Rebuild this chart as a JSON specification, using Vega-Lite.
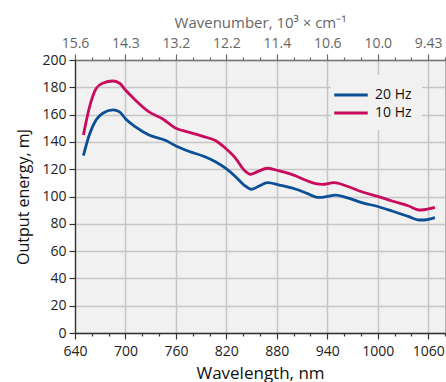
{
  "$schema": "https://vega.github.io/schema/vega-lite/v6.json",
  "autosize": {"type": "none"},
  "width": 370,
  "height": 273,
  "padding": {"left": 75, "top": 60, "right": 1, "bottom": 49},
  "background": "white",
  "config": {
    "font": "Open Sans",
    "view": {"fill": "#f1f1f1", "stroke": "#b0b0b0", "strokeWidth": 1}
  },
  "data": {
    "values": [
      {"series": "10 Hz", "wl": 650, "e": 145},
      {"series": "10 Hz", "wl": 657, "e": 165},
      {"series": "10 Hz", "wl": 665, "e": 179},
      {"series": "10 Hz", "wl": 673, "e": 183},
      {"series": "10 Hz", "wl": 685, "e": 184.6},
      {"series": "10 Hz", "wl": 693, "e": 183},
      {"series": "10 Hz", "wl": 700, "e": 178},
      {"series": "10 Hz", "wl": 712, "e": 170.5},
      {"series": "10 Hz", "wl": 728, "e": 162},
      {"series": "10 Hz", "wl": 744, "e": 157},
      {"series": "10 Hz", "wl": 760, "e": 150},
      {"series": "10 Hz", "wl": 776, "e": 147},
      {"series": "10 Hz", "wl": 792, "e": 144},
      {"series": "10 Hz", "wl": 807, "e": 141},
      {"series": "10 Hz", "wl": 819, "e": 135.3},
      {"series": "10 Hz", "wl": 831, "e": 128},
      {"series": "10 Hz", "wl": 841, "e": 119.5},
      {"series": "10 Hz", "wl": 849, "e": 116.3},
      {"series": "10 Hz", "wl": 857, "e": 118.2},
      {"series": "10 Hz", "wl": 869, "e": 120.7},
      {"series": "10 Hz", "wl": 883, "e": 118.7},
      {"series": "10 Hz", "wl": 902, "e": 115.2},
      {"series": "10 Hz", "wl": 916, "e": 111.5},
      {"series": "10 Hz", "wl": 928, "e": 109.2},
      {"series": "10 Hz", "wl": 934, "e": 108.9},
      {"series": "10 Hz", "wl": 948, "e": 110.1},
      {"series": "10 Hz", "wl": 962, "e": 107.9},
      {"series": "10 Hz", "wl": 981, "e": 103.5},
      {"series": "10 Hz", "wl": 1001, "e": 99.9},
      {"series": "10 Hz", "wl": 1017, "e": 96.7},
      {"series": "10 Hz", "wl": 1037, "e": 93},
      {"series": "10 Hz", "wl": 1049, "e": 90.1},
      {"series": "10 Hz", "wl": 1055, "e": 90.3},
      {"series": "10 Hz", "wl": 1068, "e": 92},
      {"series": "20 Hz", "wl": 650, "e": 130},
      {"series": "20 Hz", "wl": 657, "e": 145},
      {"series": "20 Hz", "wl": 665, "e": 156},
      {"series": "20 Hz", "wl": 673, "e": 161},
      {"series": "20 Hz", "wl": 685, "e": 163.4},
      {"series": "20 Hz", "wl": 693, "e": 162},
      {"series": "20 Hz", "wl": 700, "e": 157},
      {"series": "20 Hz", "wl": 712, "e": 151},
      {"series": "20 Hz", "wl": 728, "e": 145},
      {"series": "20 Hz", "wl": 748, "e": 141},
      {"series": "20 Hz", "wl": 760, "e": 137},
      {"series": "20 Hz", "wl": 776, "e": 133},
      {"series": "20 Hz", "wl": 792, "e": 129.7},
      {"series": "20 Hz", "wl": 807, "e": 125.5},
      {"series": "20 Hz", "wl": 819, "e": 120.7},
      {"series": "20 Hz", "wl": 831, "e": 114.5},
      {"series": "20 Hz", "wl": 841, "e": 108.4},
      {"series": "20 Hz", "wl": 850, "e": 105.3},
      {"series": "20 Hz", "wl": 859, "e": 107.7},
      {"series": "20 Hz", "wl": 869, "e": 110.1},
      {"series": "20 Hz", "wl": 883, "e": 108.4},
      {"series": "20 Hz", "wl": 902, "e": 105.5},
      {"series": "20 Hz", "wl": 916, "e": 102.3},
      {"series": "20 Hz", "wl": 928, "e": 99.4},
      {"series": "20 Hz", "wl": 934, "e": 99.4},
      {"series": "20 Hz", "wl": 950, "e": 101},
      {"series": "20 Hz", "wl": 962, "e": 99.4},
      {"series": "20 Hz", "wl": 981, "e": 95.5},
      {"series": "20 Hz", "wl": 1001, "e": 92.5},
      {"series": "20 Hz", "wl": 1017, "e": 89.4},
      {"series": "20 Hz", "wl": 1037, "e": 85.2},
      {"series": "20 Hz", "wl": 1049, "e": 82.8},
      {"series": "20 Hz", "wl": 1055, "e": 82.8},
      {"series": "20 Hz", "wl": 1068, "e": 84.5}
    ]
  },
  "resolve": {"axis": {"x": "independent"}},
  "layer": [
    {
      "mark": {"type": "line", "interpolate": "monotone", "strokeWidth": 2.8},
      "encoding": {
        "x": {
          "field": "wl", "type": "quantitative",
          "scale": {"domain": [640, 1080], "nice": false, "zero": false},
          "axis": {
            "orient": "bottom",
            "title": "Wavelength, nm",
            "values": [640, 660, 680, 700, 720, 740, 760, 780, 800, 820, 840, 860, 880, 900, 920, 940, 960, 980, 1000, 1020, 1040, 1060, 1080],
            "labelExpr": "datum.value % 60 == 40 ? datum.label : ''",
            "format": "d",
            "labelFontSize": 14, "labelColor": "#222", "labelPadding": 5,
            "labelFlush": false, "labelOverlap": false,
            "titleFontSize": 17, "titleFontWeight": "normal", "titleColor": "#111", "titlePadding": 7,
            "tickSize": {"condition": {"test": "datum.value % 60 == 40", "value": 6}, "value": 3},
            "tickColor": "#333", "tickWidth": 1.2,
            "domainColor": "#333", "domainWidth": 1.3,
            "grid": true, "gridColor": "#c6c6c6", "gridWidth": 1.5,
            "gridOpacity": {"condition": {"test": "datum.value % 60 == 40", "value": 1}, "value": 0}
          }
        },
        "y": {
          "field": "e", "type": "quantitative",
          "scale": {"domain": [0, 200], "nice": false},
          "axis": {
            "title": "Output energy, mJ",
            "values": [0, 20, 40, 60, 80, 100, 120, 140, 160, 180, 200],
            "labelFontSize": 14, "labelColor": "#222", "labelPadding": 3,
            "labelFlush": false, "labelOverlap": false,
            "titleFontSize": 16, "titleFontWeight": "normal", "titleColor": "#111", "titlePadding": 10,
            "tickSize": 6, "tickColor": "#333", "tickWidth": 1.2,
            "domainColor": "#333", "domainWidth": 1.3,
            "grid": true, "gridColor": "#c6c6c6", "gridWidth": 1.5
          }
        },
        "color": {
          "field": "series", "type": "nominal",
          "scale": {"domain": ["20 Hz", "10 Hz"], "range": ["#0b4f97", "#c90b5b"]},
          "legend": {
            "title": null,
            "orient": "none",
            "legendX": 256, "legendY": 15,
            "padding": 10,
            "fillColor": "#f1f1f1",
            "symbolType": "M-2,0H2",
            "symbolSize": 280,
            "symbolStrokeWidth": 3,
            "labelFontSize": 14, "labelColor": "#111",
            "labelOffset": 14,
            "rowPadding": 1
          }
        }
      }
    },
    {
      "mark": {"type": "line", "opacity": 0},
      "encoding": {
        "x": {
          "field": "wl", "type": "quantitative",
          "scale": {"domain": [640, 1080], "nice": false, "zero": false},
          "axis": {
            "orient": "top",
            "title": "Wavenumber, 10³ × cm⁻¹",
            "values": [640, 660, 680, 700, 720, 740, 760, 780, 800, 820, 840, 860, 880, 900, 920, 940, 960, 980, 1000, 1020, 1040, 1060, 1080],
            "labelExpr": "datum.value % 60 == 40 ? format(10000 / datum.value, '.3r') : ''",
            "labelFontSize": 14, "labelColor": "#666", "labelPadding": 4,
            "labelFlush": false, "labelOverlap": false,
            "titleFontSize": 15, "titleFontWeight": "normal", "titleColor": "#666", "titlePadding": 6,
            "tickSize": {"condition": {"test": "datum.value % 60 == 40", "value": 6}, "value": 3},
            "tickColor": "#666", "tickWidth": 1.2,
            "domainColor": "#777", "domainWidth": 1.3,
            "grid": false
          }
        },
        "detail": {"field": "series"}
      }
    }
  ]
}
